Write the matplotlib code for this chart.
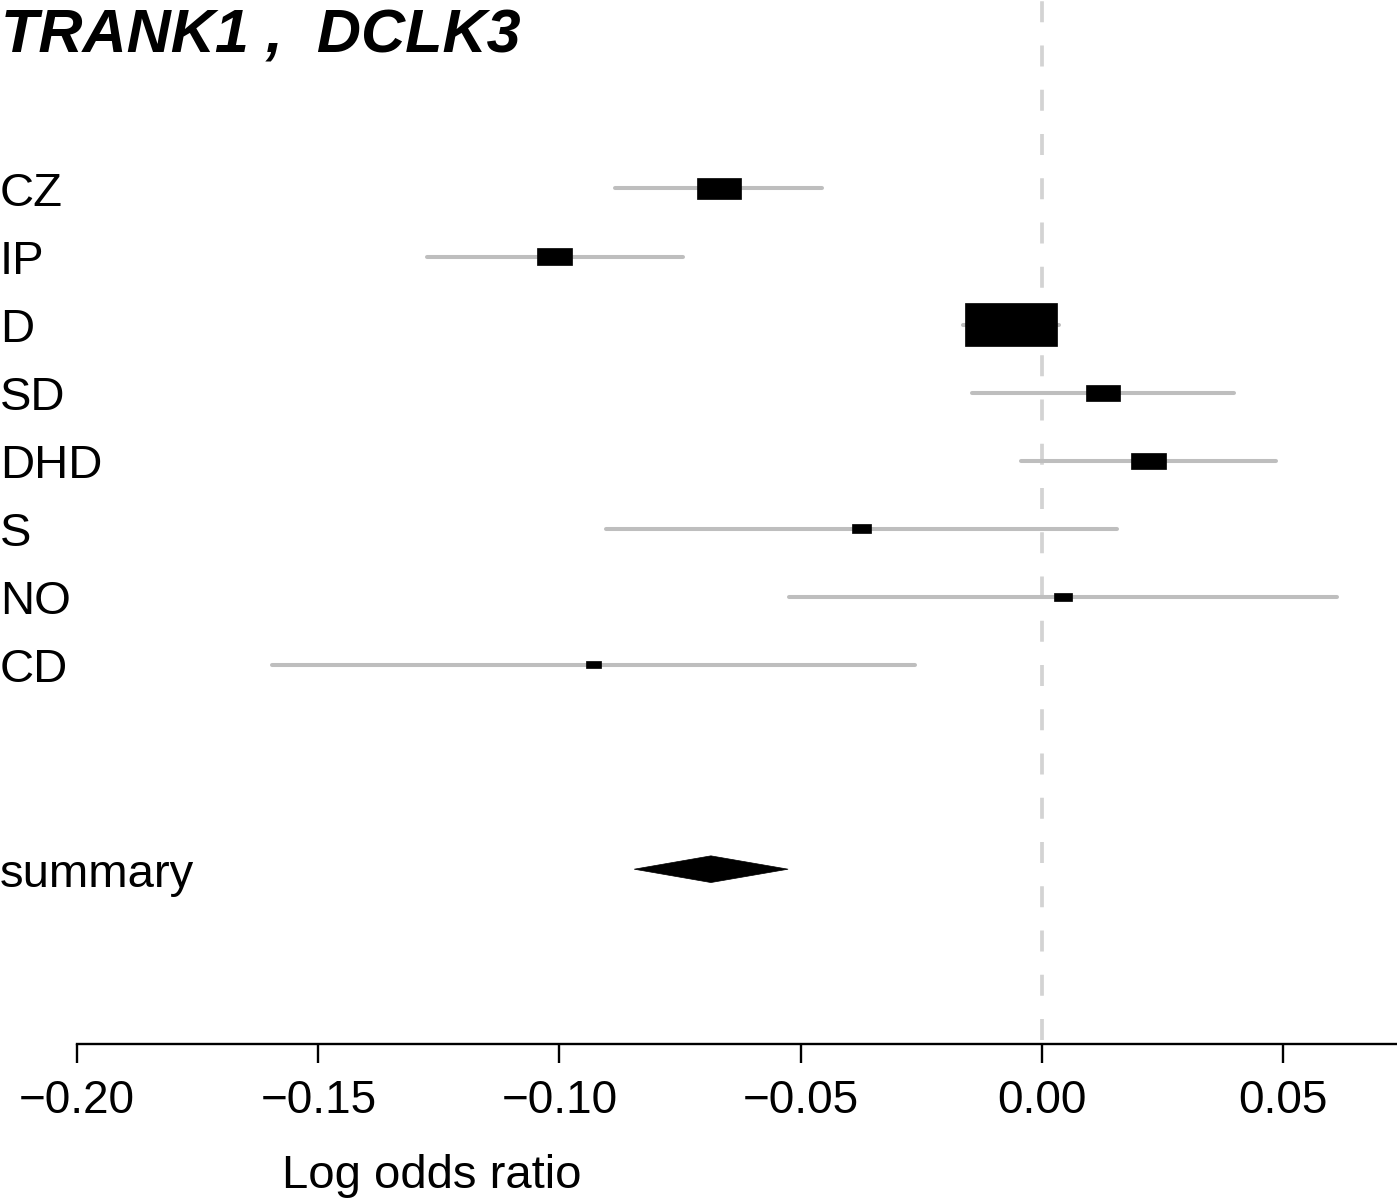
import numpy as np
import matplotlib
matplotlib.use('Agg')
import matplotlib.pyplot as plt
from matplotlib.patches import Rectangle, Polygon
import matplotlib.transforms as mtrans

plt.rcParams['font.family'] = ['Liberation Sans', 'DejaVu Sans']

# data
labels = ['CZ', 'IP', 'D', 'SD', 'DHD', 'S', 'NO', 'CD']
mean = [-0.0669, -0.1010, -0.0063, 0.0127, 0.0221, -0.0374, 0.0044, -0.0930]
lower = [-0.0885, -0.1275, -0.0163, -0.0145, -0.0044, -0.0904, -0.0524, -0.1597]
upper = [-0.0456, -0.0743, 0.0036, 0.0399, 0.0486, 0.0156, 0.0612, -0.0263]
weight = [0.472, 0.380, 1.0, 0.373, 0.384, 0.207, 0.191, 0.163]
summ_label = 'summary'
summ_mean, summ_lower, summ_upper = -0.0686, -0.0845, -0.0526
tick_vals = [-0.20, -0.15, -0.10, -0.05, 0.00, 0.05]
tick_labels = ['\u22120.20', '\u22120.15', '\u22120.10', '\u22120.05', '0.00', '0.05']
title = 'TRANK1 ,  DCLK3'
xlab = 'Log odds ratio'

W, H = 1397, 1198
fig = plt.figure(figsize=(W / 100, H / 100), dpi=100)
ax = fig.add_axes([0, 154 / H, 1, 1044 / H])

rows = np.arange(len(labels))
summ_row = len(labels) + 2

# null line
ax.plot([0, 0], [12.516, -2.8], color='#D3D3D3', lw=2.7, dashes=(5.6, 6.2),
        dash_capstyle='butt', zorder=1)

# confidence intervals
ax.hlines(rows, lower, upper, color='#BEBEBE', lw=2.9, capstyle='round', zorder=2)

# boxes
maxw = 0.01908
for r, m, w in zip(rows, mean, weight):
    bw = w * maxw
    bh = w * 0.63
    ax.add_patch(Rectangle((m - bw / 2, r - bh / 2), bw, bh, facecolor='black',
                           edgecolor='black', lw=0.5, zorder=3))

# summary diamond
dh = 0.196
ax.add_patch(Polygon([(summ_lower, summ_row), (summ_mean, summ_row - dh),
                      (summ_upper, summ_row), (summ_mean, summ_row + dh)],
                     closed=True, facecolor='black', edgecolor='black', lw=0.5, zorder=3))

# row labels
tr = mtrans.blended_transform_factory(ax.transAxes, ax.transData)
for r, lab in zip(rows, labels):
    ax.text(0.0, r + 0.257, lab, transform=tr, ha='left', va='baseline', fontsize=34)
ax.text(0.0, summ_row + 0.257, summ_label, transform=tr, ha='left', va='baseline', fontsize=34)

# axis
for s in ['top', 'left', 'right']:
    ax.spines[s].set_visible(False)
ax.spines['bottom'].set_bounds(-0.2, 0.1)
ax.spines['bottom'].set_linewidth(1.7)
ax.set_yticks([])
ax.set_xticks(tick_vals)
ax.set_xticklabels(tick_labels)
ax.tick_params(axis='x', direction='out', length=13.9, width=1.7, pad=11, labelsize=33)

ax.set_xlim(-0.2160, 0.07365)
ax.set_ylim(12.568, -2.769)

fig.text(432 / W, 1 - 1188 / H, xlab, ha='center', va='baseline', fontsize=34)
fig.text(1 / W, 1 - 53 / H, title, ha='left', va='baseline', fontsize=44,
         fontweight='bold', fontstyle='italic')

fig.savefig('out.png', dpi=100)
